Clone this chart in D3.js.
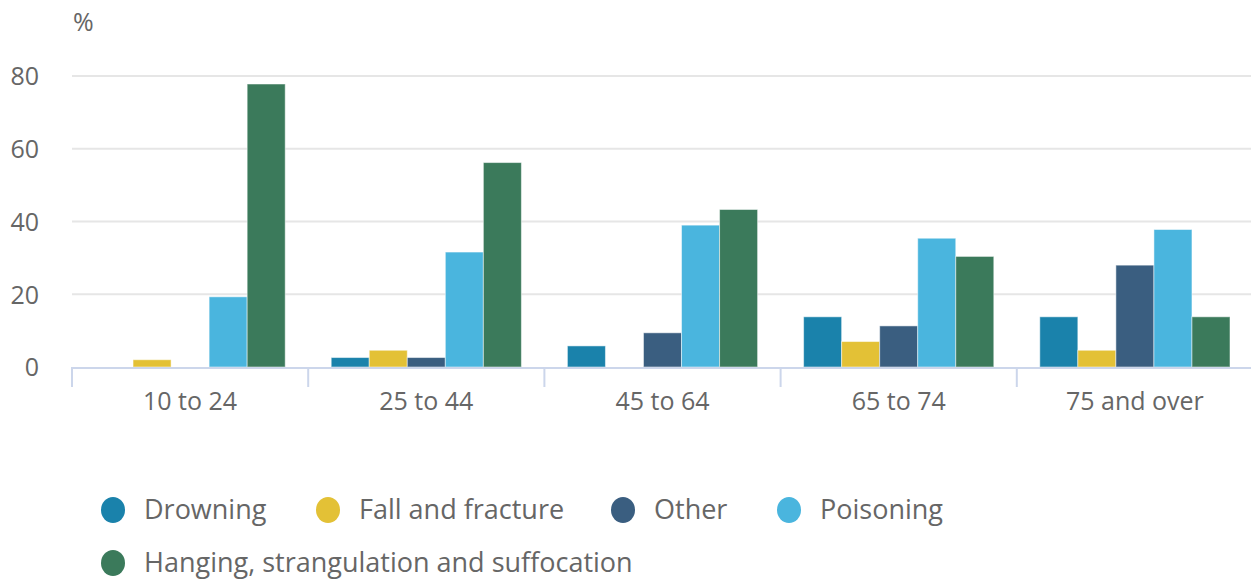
<!doctype html>
<html>
<head>
<meta charset="utf-8">
<script src="https://cdn.jsdelivr.net/npm/d3@7"></script>
<style>
  body { margin: 0; background: #fff; }
  svg, svg text { font-family: "Open Sans", sans-serif; }
  .tick text { fill: #666; font-size: 25px; }
  .legend text { fill: #666; font-size: 27px; }
</style>
</head>
<body>
<svg id="chart" width="1251" height="581"></svg>
<script>
// age groups along x
var ageGroups = ["10 to 24", "25 to 44", "45 to 64", "65 to 74", "75 and over"];
var methods = ["Drowning", "Fall and fracture", "Other", "Poisoning", "Hanging, strangulation and suffocation"];
var colors = ["#1a82ab", "#e3c136", "#3a5e80", "#4ab5de", "#3b7a5b"];

// % of each age group, per method
var drowning = [0, 2.6, 5.8, 13.8, 13.8];
var fall = [2.0, 4.6, 0, 7.0, 4.6];
var other = [0, 2.6, 9.4, 11.3, 28.0];
var poisoning = [19.3, 31.6, 39.0, 35.4, 37.8];
var hanging = [77.8, 56.2, 43.3, 30.4, 13.8];
var yTicks = [0, 20, 40, 60, 80];

var series = [drowning, fall, other, poisoning, hanging];

var svg = d3.select("#chart");
var plotLeft = 72, plotRight = 1253, plotTop = 76, plotBottom = 367;

var x0 = d3.scaleBand().domain(ageGroups).range([plotLeft, plotRight]);
var x1 = d3.scaleBand().domain(methods).range([23, x0.bandwidth() - 23]);
var y = d3.scaleLinear().domain([0, 80]).range([plotBottom, plotTop]);

// gridlines
svg.append("g").selectAll("line")
  .data(yTicks.slice(1))
  .enter().append("line")
    .attr("x1", plotLeft).attr("x2", 1251)
    .attr("y1", function(d) { return y(d); })
    .attr("y2", function(d) { return y(d); })
    .attr("stroke", "#e6e6e6").attr("stroke-width", 2);

// y axis labels
var yAxis = svg.append("g")
  .attr("transform", "translate(39,0)")
  .call(d3.axisLeft(y).tickValues(yTicks).tickSize(0).tickPadding(0));
yAxis.select(".domain").remove();
yAxis.attr("font-family", null).attr("font-size", null);
yAxis.selectAll("text").attr("dy", "0.35em");

svg.append("text").attr("x", 73).attr("y", 31)
  .attr("fill", "#666").style("font-size", "25px").text("%");

// bars
var groups = svg.append("g").selectAll("g")
  .data(ageGroups)
  .enter().append("g")
    .attr("transform", function(d) { return "translate(" + x0(d) + ",0)"; });

groups.selectAll("rect")
  .data(function(d, i) { return methods.map(function(m, j) { return { m: m, v: series[j][i], c: colors[j] }; }); })
  .enter().append("rect")
    .filter(function(d) { return d.v > 0; })
    .attr("x", function(d) { return x1(d.m); })
    .attr("width", x1.bandwidth())
    .attr("y", function(d) { return y(d.v); })
    .attr("height", function(d) { return plotBottom - y(d.v); })
    .attr("fill", function(d) { return d.c; })
    .attr("stroke", "#fff").attr("stroke-opacity", 0.5).attr("stroke-width", 1);

// x axis
var xAxis = svg.append("g")
  .attr("transform", "translate(0," + plotBottom + ")")
  .call(d3.axisBottom(x0).tickSize(0).tickPadding(25));
xAxis.select(".domain").remove();
xAxis.attr("font-family", null).attr("font-size", null);
svg.append("line").attr("x1", plotLeft).attr("x2", 1251)
  .attr("y1", plotBottom + 1).attr("y2", plotBottom + 1)
  .attr("stroke", "#ccd6eb").attr("stroke-width", 2);
svg.append("g").selectAll("line")
  .data(ageGroups)
  .enter().append("line")
    .attr("x1", function(d) { return x0(d); })
    .attr("x2", function(d) { return x0(d); })
    .attr("y1", plotBottom).attr("y2", plotBottom + 20)
    .attr("stroke", "#ccd6eb").attr("stroke-width", 2);

// legend
var legendPos = [[113, 510], [328, 510], [623, 510], [789, 510], [113, 563]];
var legend = svg.append("g").attr("class", "legend").selectAll("g")
  .data(methods)
  .enter().append("g")
    .attr("transform", function(d, i) { return "translate(" + legendPos[i][0] + "," + legendPos[i][1] + ")"; });
legend.append("ellipse").attr("rx", 12).attr("ry", 13)
  .attr("fill", function(d, i) { return colors[i]; });
legend.append("text").attr("x", 31).attr("dy", "0.35em").text(function(d) { return d; });
</script>
</body>
</html>
